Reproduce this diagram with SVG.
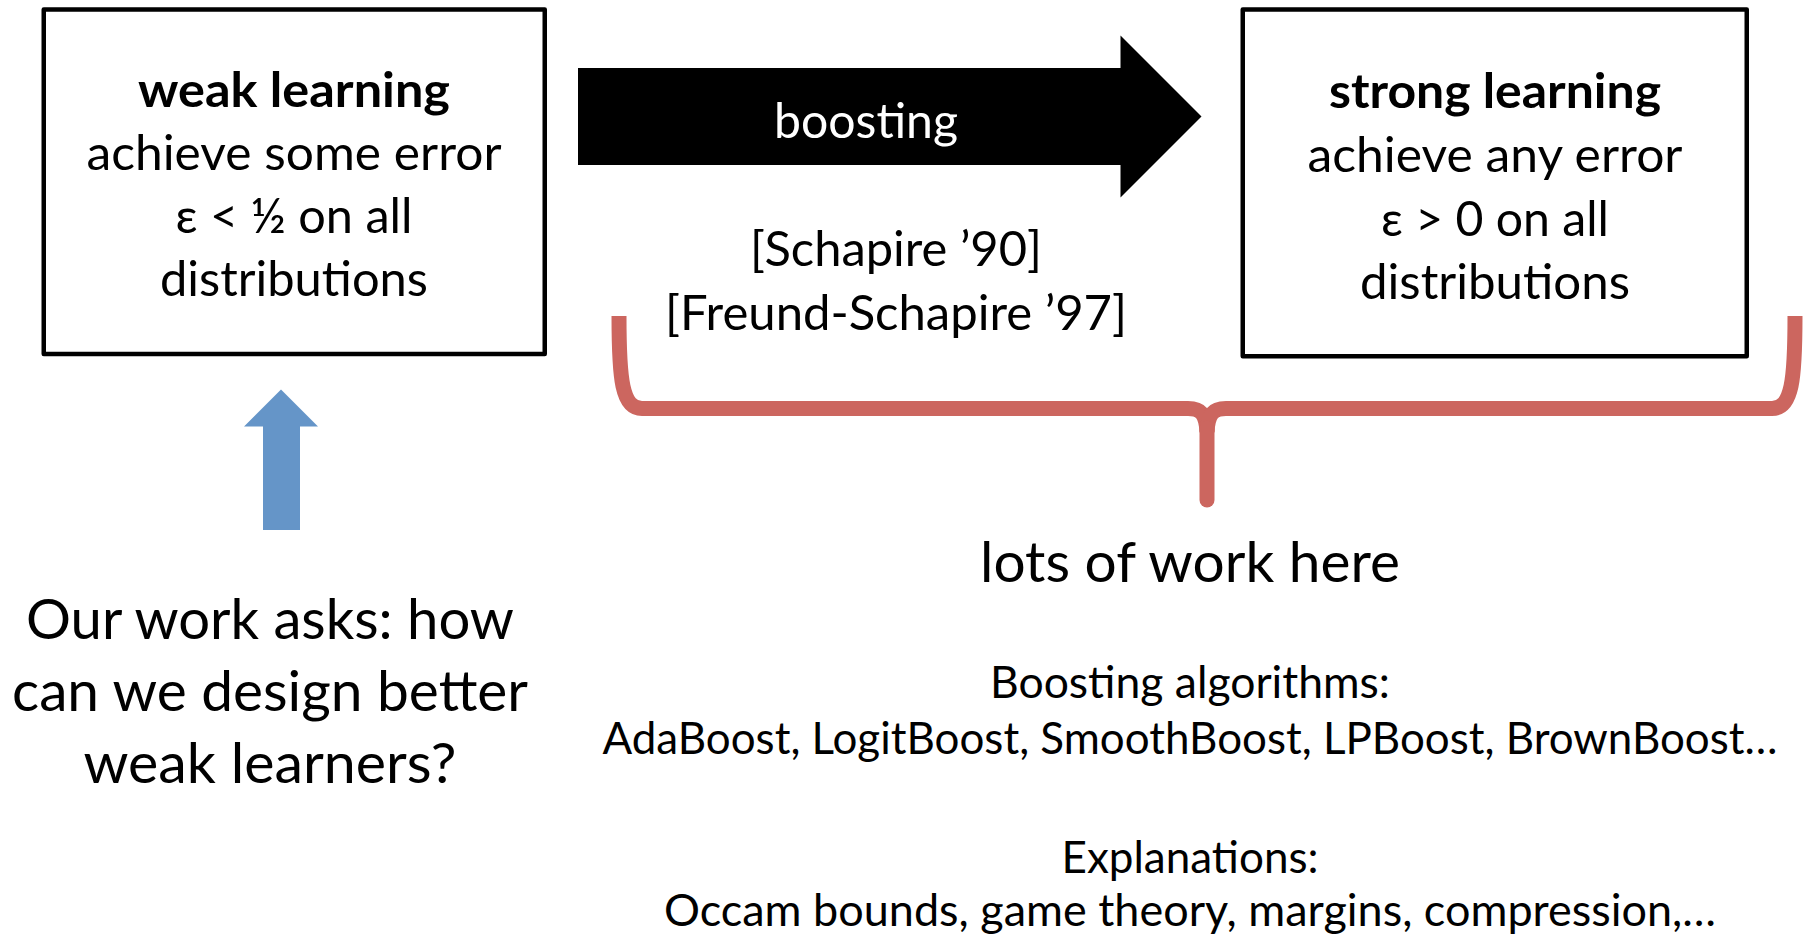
<svg xmlns="http://www.w3.org/2000/svg" width="1804" height="937" viewBox="0 0 1804 937">
<style>
  .t { font-family: Lato, "Noto Sans", "DejaVu Sans", sans-serif; fill: #000; text-anchor: middle; }
  .box { fill: #fff; stroke: #000; stroke-width: 4.5; stroke-linejoin: round; }
  .top { font-size: 48px; }
  .big { font-size: 56px; }
  .list { font-size: 44px; }
  .b { font-weight: 700; }
  .brace { fill: none; stroke: #CC665F; stroke-width: 15; stroke-linejoin: round; }
</style>
<rect x="0" y="0" width="1804" height="937" fill="#fff"/>

<g id="connectors">
  <polygon id="boosting-arrow" points="578,68 1120.5,68 1120.5,35.5 1201.5,116.5 1120.5,197.5 1120.5,165 578,165" fill="#000"/>
  <polygon id="up-arrow" points="281,389.5 318,426.5 300,426.5 300,530 263,530 263,426.5 244,426.5" fill="#6595C8"/>
  <g id="brace">
    <path class="brace" stroke-linecap="butt" d="M619,316 C619,380 622,408.5 642,408.5 L1188,408.5 C1201,408.5 1206,414 1207,432"/>
    <path class="brace" stroke-linecap="butt" d="M1795,316 C1795,380 1792,408.5 1772,408.5 L1226,408.5 C1213,408.5 1208,414 1207,432"/>
    <path class="brace" stroke-linecap="round" d="M1207,428 L1207,500"/>
  </g>
</g>

<g id="weak-learning">
  <rect class="box" x="43.75" y="9.5" width="501" height="344.5"/>
  <text class="t top b" x="294" y="106.5" textLength="312" lengthAdjust="spacingAndGlyphs">weak learning</text>
  <text class="t top" x="294" y="169.5" textLength="415" lengthAdjust="spacingAndGlyphs">achieve some error</text>
  <text class="t top" x="294" y="232.5" textLength="237" lengthAdjust="spacingAndGlyphs">ε &lt; ½ on all</text>
  <text class="t top" x="294" y="295.5" textLength="268" lengthAdjust="spacingAndGlyphs">distributions</text>
</g>

<g id="boosting-label">
  <text class="t top" x="866" y="137.5" fill="#fff" style="fill:#fff" textLength="184" lengthAdjust="spacingAndGlyphs">boosting</text>
</g>

<g id="references">
  <text class="t top" x="896" y="266" textLength="292" lengthAdjust="spacingAndGlyphs">[Schapire ’90]</text>
  <text class="t top" x="896" y="329.5" textLength="462" lengthAdjust="spacingAndGlyphs">[Freund-Schapire ’97]</text>
</g>

<g id="strong-learning">
  <rect class="box" x="1242.75" y="9.5" width="504" height="346.75"/>
  <text class="t top b" x="1495" y="108" textLength="332" lengthAdjust="spacingAndGlyphs">strong learning</text>
  <text class="t top" x="1495" y="172" textLength="375" lengthAdjust="spacingAndGlyphs">achieve any error</text>
  <text class="t top" x="1495" y="235.5" textLength="228" lengthAdjust="spacingAndGlyphs">ε &gt; 0 on all</text>
  <text class="t top" x="1495" y="298.5" textLength="270" lengthAdjust="spacingAndGlyphs">distributions</text>
</g>

<g id="our-work">
  <text class="t big" x="270" y="639" textLength="488" lengthAdjust="spacingAndGlyphs">Our work asks: how</text>
  <text class="t big" x="270" y="710.5" textLength="516" lengthAdjust="spacingAndGlyphs">can we design better</text>
  <text class="t big" x="270" y="783" textLength="373" lengthAdjust="spacingAndGlyphs">weak learners?</text>
</g>

<g id="lots-of-work">
  <text class="t big" x="1190" y="581.5" textLength="420" lengthAdjust="spacingAndGlyphs">lots of work here</text>
  <text class="t list" x="1190" y="697.5" textLength="400" lengthAdjust="spacingAndGlyphs">Boosting algorithms:</text>
  <text class="t list" x="1190" y="753.5" textLength="1175" lengthAdjust="spacingAndGlyphs">AdaBoost, LogitBoost, SmoothBoost, LPBoost, BrownBoost…</text>
  <text class="t list" x="1190" y="872.5" textLength="257" lengthAdjust="spacingAndGlyphs">Explanations:</text>
  <text class="t list" x="1190" y="926" textLength="1052" lengthAdjust="spacingAndGlyphs">Occam bounds, game theory, margins, compression,…</text>
</g>
</svg>
